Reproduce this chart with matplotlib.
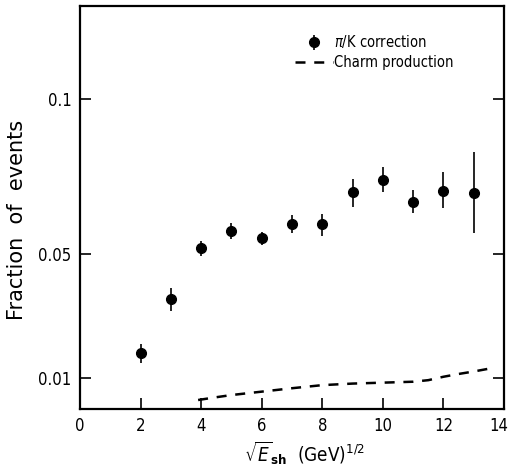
import matplotlib
matplotlib.use("Agg")
from matplotlib import pyplot as plt
from matplotlib.transforms import ScaledTranslation

plt.rcParams['font.family'] = ['DejaVu Sans']
plt.rcParams['font.stretch'] = 'condensed'
plt.rcParams['mathtext.fontset'] = 'dejavusans'

# pi/K correction points (value, lower / upper ends of the error bar)
energy = [2, 3, 4, 5, 6, 7, 8, 9, 10, 11, 12, 13]
fraction = [0.0181, 0.0356, 0.0520, 0.0575, 0.0552, 0.0598, 0.0597, 0.0699, 0.0740, 0.0667, 0.0704, 0.0696]
err_low = [0.0149, 0.0316, 0.0495, 0.0547, 0.0530, 0.0567, 0.0559, 0.0653, 0.0700, 0.0631, 0.0649, 0.0569]
err_high = [0.0210, 0.0389, 0.0542, 0.0601, 0.0572, 0.0626, 0.0629, 0.0741, 0.0782, 0.0707, 0.0764, 0.0828]

# charm production curve
charm_x = [3.9, 4.5, 5, 6, 7, 8, 9, 10, 11, 11.5, 12, 12.5, 13, 13.5]
charm_y = [0.0029, 0.0038, 0.0045, 0.0056, 0.0067, 0.0077, 0.0082, 0.0085, 0.0088, 0.0093, 0.0104, 0.0113, 0.0121, 0.0130]

xticks = [0, 2, 4, 6, 8, 10, 12, 14]
yticks = [0.01, 0.05, 0.1]
ytick_labels = ['0.01', '0.05', '0.1']

fig = plt.figure(figsize=(5.11, 4.69), dpi=100)
ax = fig.add_axes([80/511, 1-409/469, 424/511, 403/469])

yerr = [[f - l for f, l in zip(fraction, err_low)],
        [h - f for f, h in zip(fraction, err_high)]]
pts = ax.errorbar(energy, fraction, yerr=yerr, fmt='o', color='black',
                  markersize=7, elinewidth=1.2, capsize=0)
line, = ax.plot(charm_x, charm_y, color='black', lw=1.8, dashes=(4, 3.5))

ax.set_xlim(0, 14)
ax.set_ylim(0, 0.13)
ax.set_xticks(xticks)
ax.set_xticklabels([str(t) for t in xticks])
ax.set_yticks(yticks)
ax.set_yticklabels(ytick_labels)
ax.tick_params(direction='in', length=8, width=1.2, labelsize=12, right=True, pad=6)
for s in ax.spines.values():
    s.set_linewidth(1.6)

# nudge the "14" label so it stays inside the picture
last = ax.get_xticklabels()[-1]
last.set_transform(last.get_transform() + ScaledTranslation(-4/72, 0, fig.dpi_scale_trans))

ax.set_ylabel('Fraction  of  events', fontsize=15, fontstretch='normal')
ax.yaxis.set_label_coords(-0.125, 0.469)
ax.set_xlabel(r'$\sqrt{E}_{\mathbf{sh}}$  (GeV)$^{1/2}$', fontsize=13.5)
ax.xaxis.set_label_coords(0.53, -0.075)

ax.legend([pts, line], [r'$\pi$/K correction', 'Charm production'],
          loc='upper left', bbox_to_anchor=(0.49, 0.95), frameon=False,
          borderpad=0, handlelength=2.6, handletextpad=0.05, labelspacing=0.3,
          fontsize=10.5)

fig.savefig('out.png', dpi=100)
